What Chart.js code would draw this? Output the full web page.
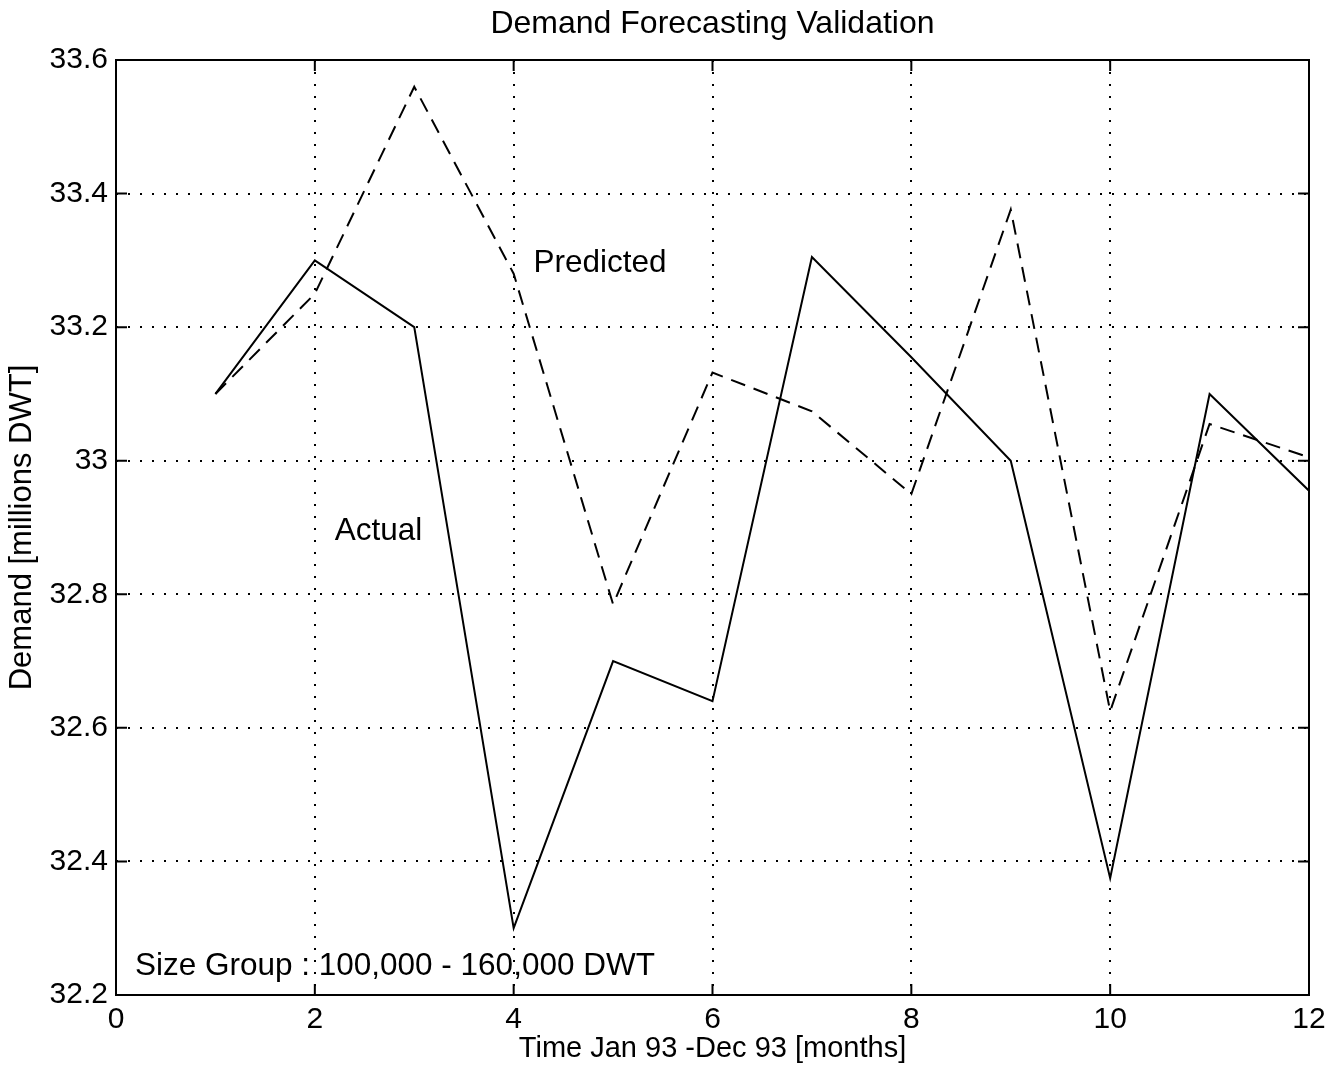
<!DOCTYPE html>
<html>
<head>
<meta charset="utf-8">
<script src="https://cdn.jsdelivr.net/npm/chart.js@4/dist/chart.umd.min.js"></script>
<style>
  html, body { margin: 0; padding: 0; background: #fff; }
  canvas { display: block; }
</style>
</head>
<body>
<canvas id="c" width="1336" height="1080"></canvas>
<script>
// Monthly demand, Jan 93 - Dec 93, millions DWT
const months = [1, 2, 3, 4, 5, 6, 7, 8, 9, 10, 11, 12];
const actual = [33.10, 33.30, 33.20, 32.30, 32.70, 32.64, 33.305, 33.155, 33.00, 32.375, 33.10, 32.955];
const predicted = [33.10, 33.25, 33.56, 33.28, 32.785, 33.132, 33.074, 32.95, 33.376, 32.625, 33.055, 33.005];

const xTicks = [0, 2, 4, 6, 8, 10, 12];
const yTicks = [32.2, 32.4, 32.6, 32.8, 33.0, 33.2, 33.4, 33.6];

const titleText = 'Demand Forecasting Validation';
const xTitle = 'Time Jan 93 -Dec 93 [months]';
const yTitle = 'Demand [millions DWT]';

// Text notes placed in data coordinates
const notes = [
  { text: 'Predicted', x: 4.2, y: 33.295 },
  { text: 'Actual', x: 2.2, y: 32.895 },
  { text: 'Size Group : 100,000 - 160,000 DWT', x: 0.19, y: 32.243 }
];

const FONT = '"Liberation Sans", Arial, Helvetica, sans-serif';

const toPoints = (vals) => vals.map((v, i) => ({ x: months[i], y: v }));

// Closed box with inward tick marks on all four sides, plus text notes
const boxPlugin = {
  id: 'boxAndNotes',
  afterDatasetsDraw(chart) {
    const { ctx, chartArea: a, scales: { x, y } } = chart;
    const tl = 11;
    ctx.save();
    ctx.strokeStyle = '#000';
    ctx.lineWidth = 2;
    ctx.setLineDash([]);
    ctx.beginPath();
    xTicks.forEach(v => {
      const px = x.getPixelForValue(v);
      ctx.moveTo(px, a.bottom); ctx.lineTo(px, a.bottom - tl);
      ctx.moveTo(px, a.top); ctx.lineTo(px, a.top + tl);
    });
    yTicks.forEach(v => {
      const py = y.getPixelForValue(v);
      ctx.moveTo(a.left, py); ctx.lineTo(a.left + tl, py);
      ctx.moveTo(a.right, py); ctx.lineTo(a.right - tl, py);
    });
    ctx.stroke();
    ctx.strokeRect(a.left, a.top, a.right - a.left, a.bottom - a.top);

    ctx.fillStyle = '#000';
    ctx.font = '31.5px ' + FONT;
    ctx.textAlign = 'left';
    ctx.textBaseline = 'middle';
    notes.forEach(n => {
      ctx.fillText(n.text, x.getPixelForValue(n.x), y.getPixelForValue(n.y));
    });
    ctx.restore();
  }
};

new Chart(document.getElementById('c'), {
  type: 'line',
  data: {
    datasets: [
      {
        label: 'Actual',
        data: toPoints(actual),
        borderColor: '#000',
        borderWidth: 2,
        pointRadius: 0,
        tension: 0,
        fill: false
      },
      {
        label: 'Predicted',
        data: toPoints(predicted),
        borderColor: '#000',
        borderWidth: 2,
        borderDash: [15, 9],
        pointRadius: 0,
        tension: 0,
        fill: false
      }
    ]
  },
  options: {
    responsive: false,
    animation: false,
    events: [],
    layout: { padding: { left: 0, right: 27, top: 0, bottom: 0 } },
    plugins: {
      legend: { display: false },
      tooltip: { enabled: false },
      title: {
        display: true,
        fullSize: false,
        text: titleText,
        color: '#000',
        font: { family: FONT, size: 32, weight: 'normal' },
        padding: { top: 5, bottom: 16.6 }
      }
    },
    scales: {
      x: {
        type: 'linear',
        min: 0,
        max: 12,
        afterBuildTicks: (s) => { s.ticks = xTicks.map(v => ({ value: v })); },
        afterFit: (s) => { s.height = 85; },
        ticks: {
          color: '#000',
          font: { family: FONT, size: 30 },
          padding: 7,
          callback: (v) => String(v)
        },
        grid: { color: '#000', lineWidth: 2, drawTicks: false },
        border: { display: false, dash: [2, 10] },
        title: {
          display: true,
          text: xTitle,
          color: '#000',
          font: { family: FONT, size: 29 },
          padding: { top: 0, bottom: 14 }
        }
      },
      y: {
        type: 'linear',
        min: 32.2,
        max: 33.6,
        afterBuildTicks: (s) => { s.ticks = yTicks.map(v => ({ value: v })); },
        afterFit: (s) => { s.width = 116; },
        ticks: {
          color: '#000',
          font: { family: FONT, size: 30 },
          padding: 8,
          callback: (v) => String(Math.round(v * 10) / 10)
        },
        grid: { color: '#000', lineWidth: 2, drawTicks: false },
        border: { display: false, dash: [2, 10] },
        title: {
          display: true,
          text: yTitle,
          color: '#000',
          font: { family: FONT, size: 31 },
          padding: { top: 4, bottom: 0 }
        }
      }
    }
  },
  plugins: [boxPlugin]
});
</script>
</body>
</html>
